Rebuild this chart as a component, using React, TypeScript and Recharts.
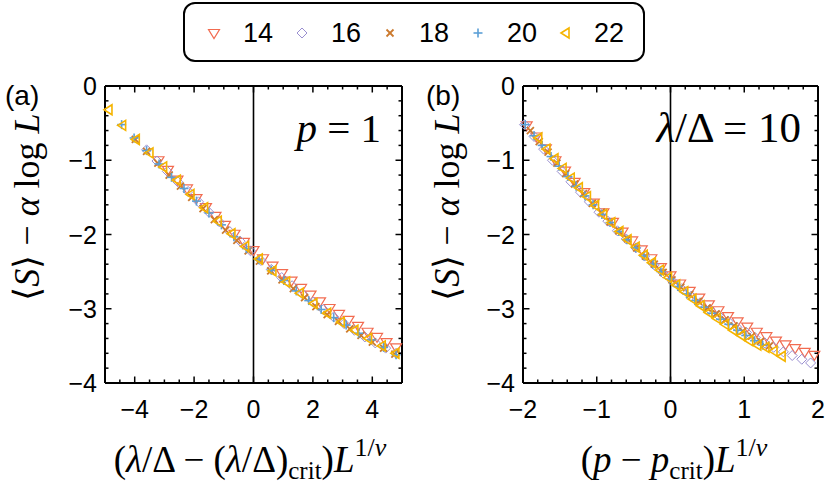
import React from 'react';
import { ScatterChart, Scatter, XAxis, YAxis, ReferenceLine } from 'recharts';

// ---- panel (a): x = (λ/Δ − (λ/Δ)crit) L^{1/ν}
const A14_X = [-3.2, -2.88, -2.56, -2.24, -1.92, -1.6, -1.28, -0.96, -0.64, -0.32, 0, 0.32, 0.64, 0.96, 1.28, 1.6, 1.92, 2.24, 2.56, 2.88, 3.2, 3.52, 3.84, 4.16, 4.48, 4.8];
const A14_Y = [-1.0, -1.13, -1.26, -1.38, -1.51, -1.63, -1.75, -1.87, -1.99, -2.1, -2.21, -2.32, -2.42, -2.52, -2.62, -2.72, -2.81, -2.9, -2.99, -3.07, -3.15, -3.23, -3.31, -3.38, -3.45, -3.52];
const A16_X = [-3.6, -3.25, -2.9, -2.55, -2.2, -1.85, -1.5, -1.15, -0.8, -0.45, -0.1, 0.25, 0.6, 0.95, 1.3, 1.65, 2.0, 2.35, 2.7, 3.05, 3.4, 3.75, 4.1, 4.45, 4.8];
const A16_Y = [-0.86, -1.01, -1.15, -1.29, -1.42, -1.56, -1.7, -1.83, -1.96, -2.09, -2.22, -2.35, -2.47, -2.58, -2.69, -2.8, -2.91, -3.01, -3.11, -3.2, -3.29, -3.38, -3.46, -3.53, -3.6];
const A18_X = [-3.98, -3.6, -3.22, -2.84, -2.46, -2.08, -1.7, -1.32, -0.94, -0.56, -0.18, 0.2, 0.58, 0.96, 1.34, 1.72, 2.1, 2.48, 2.86, 3.24, 3.62, 4.0, 4.38, 4.76];
const A18_Y = [-0.72, -0.88, -1.04, -1.2, -1.35, -1.5, -1.65, -1.8, -1.94, -2.08, -2.22, -2.36, -2.49, -2.61, -2.73, -2.85, -2.97, -3.08, -3.17, -3.27, -3.36, -3.45, -3.53, -3.61];
const A20_X = [-4.44, -4.02, -3.6, -3.18, -2.76, -2.34, -1.92, -1.5, -1.08, -0.66, -0.24, 0.18, 0.6, 1.02, 1.44, 1.86, 2.28, 2.7, 3.12, 3.54, 3.96, 4.38, 4.8];
const A20_Y = [-0.52, -0.7, -0.87, -1.05, -1.23, -1.38, -1.55, -1.71, -1.87, -2.03, -2.19, -2.34, -2.48, -2.62, -2.76, -2.89, -3.01, -3.12, -3.22, -3.33, -3.42, -3.52, -3.62];
const A22_X = [-4.9, -4.44, -3.98, -3.52, -3.06, -2.6, -2.14, -1.68, -1.22, -0.76, -0.3, 0.16, 0.62, 1.08, 1.54, 2.0, 2.46, 2.92, 3.38, 3.84, 4.3, 4.76];
const A22_Y = [-0.32, -0.53, -0.72, -0.9, -1.09, -1.27, -1.46, -1.64, -1.82, -1.99, -2.16, -2.33, -2.49, -2.64, -2.79, -2.93, -3.06, -3.18, -3.29, -3.4, -3.5, -3.6];

// ---- panel (b): x = (p − p_crit) L^{1/ν}
const B14_X = [-1.95, -1.82, -1.69, -1.56, -1.43, -1.3, -1.17, -1.04, -0.91, -0.78, -0.65, -0.52, -0.39, -0.26, -0.13, 0, 0.13, 0.26, 0.39, 0.52, 0.65, 0.78, 0.91, 1.04, 1.17, 1.3, 1.43, 1.56, 1.69, 1.82, 1.95];
const B14_Y = [-0.53, -0.68, -0.84, -1.0, -1.14, -1.29, -1.43, -1.57, -1.7, -1.83, -1.96, -2.08, -2.2, -2.32, -2.44, -2.55, -2.66, -2.76, -2.85, -2.94, -3.02, -3.1, -3.17, -3.24, -3.31, -3.37, -3.43, -3.48, -3.53, -3.58, -3.62];
const B16_X = [-1.98, -1.85, -1.72, -1.6, -1.47, -1.35, -1.22, -1.1, -0.97, -0.85, -0.72, -0.6, -0.47, -0.35, -0.22, -0.1, 0.03, 0.15, 0.28, 0.4, 0.53, 0.65, 0.78, 0.9, 1.03, 1.15, 1.28, 1.4, 1.53, 1.65, 1.78, 1.9];
const B16_Y = [-0.52, -0.68, -0.85, -1.0, -1.15, -1.29, -1.43, -1.56, -1.7, -1.82, -1.95, -2.06, -2.18, -2.29, -2.41, -2.52, -2.63, -2.73, -2.83, -2.92, -3.01, -3.09, -3.17, -3.25, -3.32, -3.39, -3.46, -3.52, -3.58, -3.63, -3.68, -3.73];
const B18_X = [-1.9, -1.78, -1.66, -1.54, -1.42, -1.3, -1.18, -1.06, -0.94, -0.82, -0.7, -0.58, -0.46, -0.34, -0.22, -0.1, 0.02, 0.14, 0.26, 0.38, 0.5, 0.62, 0.74, 0.86, 0.98, 1.1, 1.22, 1.34];
const B18_Y = [-0.6, -0.75, -0.89, -1.04, -1.18, -1.32, -1.45, -1.58, -1.7, -1.83, -1.95, -2.06, -2.18, -2.29, -2.4, -2.51, -2.61, -2.71, -2.81, -2.9, -2.99, -3.07, -3.15, -3.23, -3.3, -3.37, -3.44, -3.5];
const B20_X = [-1.97, -1.85, -1.74, -1.62, -1.51, -1.39, -1.28, -1.16, -1.05, -0.93, -0.82, -0.7, -0.59, -0.47, -0.36, -0.24, -0.13, -0.01, 0.1, 0.22, 0.33, 0.45, 0.56, 0.68, 0.79, 0.91, 1.02, 1.14, 1.25];
const B20_Y = [-0.52, -0.67, -0.8, -0.95, -1.08, -1.22, -1.35, -1.48, -1.6, -1.73, -1.84, -1.96, -2.07, -2.18, -2.29, -2.4, -2.5, -2.6, -2.7, -2.8, -2.89, -2.98, -3.06, -3.14, -3.21, -3.29, -3.36, -3.43, -3.49];
const B22_X = [-1.8, -1.69, -1.58, -1.47, -1.36, -1.25, -1.14, -1.03, -0.92, -0.81, -0.7, -0.59, -0.48, -0.37, -0.26, -0.15, -0.04, 0.07, 0.18, 0.29, 0.4, 0.51, 0.62, 0.73, 0.84, 0.95, 1.06, 1.17, 1.28, 1.39, 1.5];
const B22_Y = [-0.7, -0.85, -0.98, -1.11, -1.24, -1.37, -1.49, -1.61, -1.73, -1.84, -1.96, -2.07, -2.17, -2.28, -2.38, -2.48, -2.58, -2.68, -2.77, -2.87, -2.96, -3.05, -3.13, -3.21, -3.29, -3.36, -3.43, -3.49, -3.52, -3.57, -3.64];

// legend / series
const SIZES = ['14', '16', '18', '20', '22'];
const COLORS = ['#F26B50', '#9A8FD0', '#CC7A2E', '#5B9FD6', '#F5B400'];

// ticks
const A_X_MAJOR = [-4, -2, 0, 2, 4];
const A_X_ALL = [-5, -4.5, -4, -3.5, -3, -2.5, -2, -1.5, -1, -0.5, 0, 0.5, 1, 1.5, 2, 2.5, 3, 3.5, 4, 4.5, 5];
const B_X_MAJOR = [-2, -1, 0, 1, 2];
const B_X_ALL = [-2, -1.8, -1.6, -1.4, -1.2, -1, -0.8, -0.6, -0.4, -0.2, 0, 0.2, 0.4, 0.6, 0.8, 1, 1.2, 1.4, 1.6, 1.8, 2];
const Y_MAJOR = [0, -1, -2, -3, -4];
const Y_ALL = [0, -0.2, -0.4, -0.6, -0.8, -1, -1.2, -1.4, -1.6, -1.8, -2, -2.2, -2.4, -2.6, -2.8, -3, -3.2, -3.4, -3.6, -3.8, -4];

const zip = (xs: number[], ys: number[]) => xs.map((x, i) => ({ x, y: ys[i] }));

const PANEL_A = [zip(A14_X, A14_Y), zip(A16_X, A16_Y), zip(A18_X, A18_Y), zip(A20_X, A20_Y), zip(A22_X, A22_Y)];
const PANEL_B = [zip(B14_X, B14_Y), zip(B16_X, B16_Y), zip(B18_X, B18_Y), zip(B20_X, B20_Y), zip(B22_X, B22_Y)];

const SANS = '"Liberation Sans", Arial, Helvetica, sans-serif';
const SERIF = '"Liberation Serif", "Times New Roman", serif';
const PLOT_H = 297;

// marker glyphs, one per system size
const Marker = ({ cx, cy, i }: { cx: number; cy: number; i: number }) => {
  const c = COLORS[i];
  if (i === 0) {
    return <polygon points={`${cx - 5.5},${cy - 3.5} ${cx + 5.5},${cy - 3.5} ${cx},${cy + 5.5}`} fill="none" stroke={c} strokeWidth={1.2} />;
  }
  if (i === 1) {
    return <polygon points={`${cx},${cy - 5} ${cx + 5},${cy} ${cx},${cy + 5} ${cx - 5},${cy}`} fill="none" stroke={c} strokeWidth={1} />;
  }
  if (i === 2) {
    return (
      <g stroke={c} strokeWidth={1.8}>
        <line x1={cx - 3.5} y1={cy - 3.5} x2={cx + 3.5} y2={cy + 3.5} />
        <line x1={cx - 3.5} y1={cy + 3.5} x2={cx + 3.5} y2={cy - 3.5} />
      </g>
    );
  }
  if (i === 3) {
    return (
      <g stroke={c} strokeWidth={1.6}>
        <line x1={cx - 4.5} y1={cy} x2={cx + 4.5} y2={cy} />
        <line x1={cx} y1={cy - 4.5} x2={cx} y2={cy + 4.5} />
      </g>
    );
  }
  return <polygon points={`${cx - 4},${cy} ${cx + 4},${cy - 5} ${cx + 4},${cy + 5}`} fill="none" stroke={c} strokeWidth={1.6} />;
};

const fmt = (v: number) => (v < 0 ? '\u2212' + Math.abs(v) : String(v));

// bottom ticks: inward marks on bottom and mirrored top edge, label on majors
const bottomTick = (majors: number[]) => (p: any) => {
  const v = p.payload.value;
  const major = majors.includes(v);
  const len = major ? 6.5 : 3.5;
  return (
    <g>
      <line x1={p.x} x2={p.x} y1={p.y} y2={p.y - len} stroke="#000" strokeWidth={1.5} />
      <line x1={p.x} x2={p.x} y1={p.y - PLOT_H} y2={p.y - PLOT_H + len} stroke="#000" strokeWidth={1.5} />
      {major && <text x={p.x} y={p.y + 35} textAnchor="middle" fontSize={25} fontFamily={SANS} fill="#000">{fmt(v)}</text>}
    </g>
  );
};

// left ticks: inward marks on left and mirrored right edge
const leftTick = (plotW: number) => (p: any) => {
  const v = p.payload.value;
  const major = Y_MAJOR.includes(v);
  const len = major ? 6.5 : 3.5;
  return (
    <g>
      <line x1={p.x} x2={p.x + len} y1={p.y} y2={p.y} stroke="#000" strokeWidth={1.5} />
      <line x1={p.x + plotW} x2={p.x + plotW - len} y1={p.y} y2={p.y} stroke="#000" strokeWidth={1.5} />
      {major && <text x={p.x - 8} y={p.y + 9} textAnchor="end" fontSize={25} fontFamily={SANS} fill="#000">{fmt(v)}</text>}
    </g>
  );
};

function renderPanel(data: any[][], xDomain: number[], xAll: number[], xMajor: number[], width: number, margin: any, plotW: number) {
  return (
    <ScatterChart width={width} height={494} margin={margin}>
      <XAxis xAxisId="b" type="number" dataKey="x" domain={xDomain} ticks={xAll} interval={0}
        height={1} tickSize={0} tickMargin={0} tickLine={false} stroke="#000" axisLine={{ stroke: '#000', strokeWidth: 2 }}
        tick={bottomTick(xMajor)} />
      <YAxis yAxisId="l" type="number" dataKey="y" domain={[-4, 0]} ticks={Y_ALL} interval={0}
        width={1} tickSize={0} tickMargin={0} tickLine={false} stroke="#000" axisLine={{ stroke: '#000', strokeWidth: 2 }}
        tick={leftTick(plotW)} />
      {/* top and right frame edges */}
      <ReferenceLine xAxisId="b" yAxisId="l" y={0} stroke="#000" strokeWidth={2} />
      <ReferenceLine xAxisId="b" yAxisId="l" x={xDomain[1]} stroke="#000" strokeWidth={2} />
      <ReferenceLine xAxisId="b" yAxisId="l" x={0} stroke="#000" strokeWidth={1.6} />
      {data.map((pts, i) => (
        <Scatter key={SIZES[i]} name={SIZES[i]} data={pts} xAxisId="b" yAxisId="l" isAnimationActive={false}
          shape={(p: any) => <Marker cx={p.cx} cy={p.cy} i={i} />} />
      ))}
    </ScatterChart>
  );
}

const LEGEND_MARK_X = [214, 302, 390, 478, 565];

export default function App() {
  return (
    <div style={{ position: 'absolute', left: 0, top: 0, width: 830, height: 494, background: '#fff' }}>
      <div style={{ position: 'absolute', left: 0, top: 0 }}>
        {renderPanel(PANEL_A, [-5, 5], A_X_ALL, A_X_MAJOR, 415, { top: 86, left: 104, right: 13, bottom: 110 }, 297)}
      </div>
      <div style={{ position: 'absolute', left: 420, top: 0 }}>
        {renderPanel(PANEL_B, [-2, 2], B_X_ALL, B_X_MAJOR, 410, { top: 86, left: 102, right: 12, bottom: 110 }, 295)}
      </div>
      <svg width={830} height={494} style={{ position: 'absolute', left: 0, top: 0, pointerEvents: 'none' }}>
        {/* legend */}
        <rect x={184} y={3} width={460} height={58} rx={11} fill="#fff" stroke="#000" strokeWidth={2} />
        {SIZES.map((s, i) => (
          <g key={s}>
            <Marker cx={LEGEND_MARK_X[i]} cy={33} i={i} />
            <text x={LEGEND_MARK_X[i] + 29} y={42} fontSize={27} fontFamily={SANS} fill="#000">{s}</text>
          </g>
        ))}

        {/* panel tags */}
        <text x={5} y={105} fontSize={28} fontFamily={SANS} fill="#000">(a)</text>
        <text x={426} y={105} fontSize={28} fontFamily={SANS} fill="#000">(b)</text>

        {/* in-plot annotations */}
        <text x={381} y={142} textAnchor="end" fontSize={41} fontFamily={SERIF} fill="#000">
          <tspan fontStyle="italic">p</tspan> = 1
        </text>
        <text x={801} y={142} textAnchor="end" fontSize={43} fontFamily={SERIF} fill="#000">
          <tspan fontStyle="italic">λ</tspan>/Δ = 10
        </text>

        {/* y titles */}
        {[27, 447].map((cx) => (
          <text key={cx} x={cx} y={207} transform={`rotate(-90 ${cx} 207)`} textAnchor="middle" dominantBaseline="central"
            fontSize={36} fontFamily={SERIF} fill="#000">
            {'\u27E8'}<tspan fontStyle="italic">S</tspan>{'\u27E9 \u2212 '}<tspan fontStyle="italic">α</tspan> log <tspan fontStyle="italic">L</tspan>
          </text>
        ))}

        {/* x titles */}
        <text x={250} y={472} textAnchor="middle" fontSize={37} fontFamily={SERIF} fill="#000">
          (<tspan fontStyle="italic">λ</tspan>/Δ {'\u2212'} (<tspan fontStyle="italic">λ</tspan>/Δ)
          <tspan fontSize={25} dy={7}>crit</tspan>
          <tspan dy={-7}>)</tspan>
          <tspan fontStyle="italic">L</tspan>
          <tspan fontSize={26} dy={-16}>1/</tspan>
          <tspan fontSize={26} fontStyle="italic">ν</tspan>
        </text>
        <text x={674} y={472} textAnchor="middle" fontSize={37} fontFamily={SERIF} fill="#000">
          (<tspan fontStyle="italic">p</tspan> {'\u2212'} <tspan fontStyle="italic">p</tspan>
          <tspan fontSize={25} dy={7}>crit</tspan>
          <tspan dy={-7}>)</tspan>
          <tspan fontStyle="italic">L</tspan>
          <tspan fontSize={26} dy={-16}>1/</tspan>
          <tspan fontSize={26} fontStyle="italic">ν</tspan>
        </text>
      </svg>
    </div>
  );
}
